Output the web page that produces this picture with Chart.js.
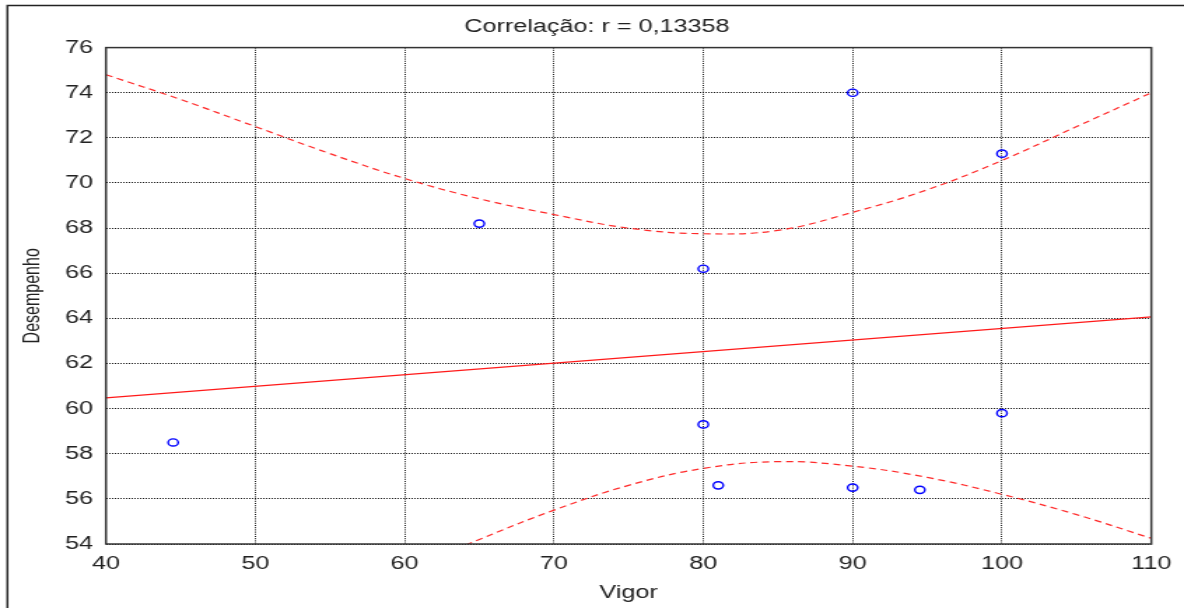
<!DOCTYPE html>
<html>
<head>
<meta charset="utf-8">
<script src="https://cdn.jsdelivr.net/npm/chart.js@4.4.1/dist/chart.umd.min.js"></script>
<style>
  html, body { margin: 0; padding: 0; background: #fff; overflow: hidden; width: 1184px; height: 608px; }
  #wrap { position: absolute; left: 0; top: 0; width: 846px; height: 608px; transform: scaleX(1.39953); transform-origin: 0 0; }
  canvas { display: block; }
</style>
</head>
<body>
<div id="wrap"><canvas id="c" width="846" height="608" style="width:846px;height:608px"></canvas></div>
<script>
// Observed points (Vigor, Desempenho)
const vigor = [44.5, 65, 80, 80, 81, 90, 90, 94.5, 100, 100];
const desempenho = [58.5, 68.2, 66.2, 59.3, 56.6, 74.0, 56.5, 56.4, 71.3, 59.8];

// Regression line end points
const regX = [40, 110];
const regY = [60.48, 64.07];

// Upper confidence band
const upperX = [40, 45, 50, 55, 60, 65, 70, 75, 80, 85, 90, 95, 100, 105, 110];
const upperY = [74.8, 73.7, 72.5, 71.3, 70.2, 69.3, 68.6, 68.0, 67.75, 67.9, 68.7, 69.7, 71.0, 72.5, 74.0];

// Lower confidence band
const lowerX = [60, 65, 70, 75, 80, 85, 90, 95, 100, 105, 110];
const lowerY = [52.8, 54.2, 55.5, 56.6, 57.35, 57.65, 57.45, 56.95, 56.2, 55.3, 54.25];

// Tick labels
const xTicks = [40, 50, 60, 70, 80, 90, 100, 110];
const yTicks = [54, 56, 58, 60, 62, 64, 66, 68, 70, 72, 74, 76];

const zip = (xs, ys) => xs.map((x, i) => ({ x: x, y: ys[i] }));

const FONT = "'Liberation Sans', Arial, sans-serif";
const TXT = '#222';

const framePlugin = {
  id: 'frame',
  beforeDraw(chart) {
    const ctx = chart.ctx;
    ctx.save();
    ctx.strokeStyle = '#222';
    ctx.lineWidth = 1.5;
    ctx.beginPath();
    ctx.moveTo(5.3, 700);
    ctx.lineTo(5.3, 5.5);
    ctx.lineTo(900, 5.5);
    ctx.stroke();
    ctx.restore();
  },
  afterDatasetsDraw(chart) {
    const a = chart.chartArea;
    const ctx = chart.ctx;
    ctx.save();
    ctx.strokeStyle = '#333';
    ctx.lineWidth = 1.5;
    ctx.strokeRect(a.left, a.top, a.right - a.left, a.bottom - a.top);
    ctx.restore();
  }
};

new Chart(document.getElementById('c'), {
  type: 'scatter',
  data: {
    datasets: [
      {
        label: 'Dados',
        data: zip(vigor, desempenho),
        pointStyle: 'circle',
        pointRadius: 3.6,
        pointBorderWidth: 1.4,
        pointBorderColor: '#0000ff',
        pointBackgroundColor: 'rgba(255,255,255,0)',
        showLine: false
      },
      {
        label: 'Regressão',
        data: zip(regX, regY),
        showLine: true,
        borderColor: '#ff1a1a',
        borderWidth: 1.3,
        pointRadius: 0,
        fill: false
      },
      {
        label: 'Superior',
        data: zip(upperX, upperY),
        showLine: true,
        borderColor: '#ff2a2a',
        borderWidth: 1.2,
        borderDash: [5, 3.5],
        pointRadius: 0,
        tension: 0.4,
        fill: false
      },
      {
        label: 'Inferior',
        data: zip(lowerX, lowerY),
        showLine: true,
        borderColor: '#ff2a2a',
        borderWidth: 1.2,
        borderDash: [5, 3.5],
        pointRadius: 0,
        tension: 0.4,
        fill: false
      }
    ]
  },
  options: {
    responsive: false,
    animation: false,
    devicePixelRatio: 1,
    layout: { padding: { left: 7, right: 0, top: 6, bottom: 0 } },
    plugins: {
      legend: { display: false },
      tooltip: { enabled: false },
      title: {
        display: true,
        text: 'Correlação: r = 0,13358',
        color: TXT,
        font: { family: FONT, size: 18, weight: 'normal' },
        padding: { top: 10.5, bottom: 9.5 }
      }
    },
    scales: {
      x: {
        type: 'linear',
        min: 40,
        max: 110,
        afterFit(s) { s.height = 64; },
        afterBuildTicks(s) { s.ticks = xTicks.map(v => ({ value: v })); },
        ticks: { color: TXT, font: { family: FONT, size: 18 }, padding: 9, maxRotation: 0 },
        grid: { color: 'rgba(0,0,0,0.9)', lineWidth: 1, drawTicks: false, tickLength: 0 },
        border: { display: false, dash: [1, 1.2] },
        title: { display: true, text: 'Vigor', color: TXT, font: { family: FONT, size: 18 }, padding: { top: 6, bottom: 4 } }
      },
      y: {
        type: 'linear',
        min: 54,
        max: 76,
        afterFit(s) { s.width = 68.7; },
        afterBuildTicks(s) { s.ticks = yTicks.map(v => ({ value: v })); },
        ticks: { color: TXT, font: { family: FONT, size: 18 }, padding: 9.3 },
        grid: { color: 'rgba(0,0,0,0.9)', lineWidth: 1, drawTicks: false, tickLength: 0 },
        border: { display: false, dash: [1, 1] },
        title: { display: true, text: 'Desempenho', color: TXT, font: { family: FONT, size: 16 }, padding: { top: 7, bottom: 0 } }
      },
      yRight: {
        type: 'linear',
        position: 'right',
        display: true,
        afterFit(s) { s.width = 23.1; },
        ticks: { display: false },
        grid: { display: false, drawTicks: false },
        border: { display: false }
      }
    }
  },
  plugins: [framePlugin]
});
</script>
</body>
</html>
